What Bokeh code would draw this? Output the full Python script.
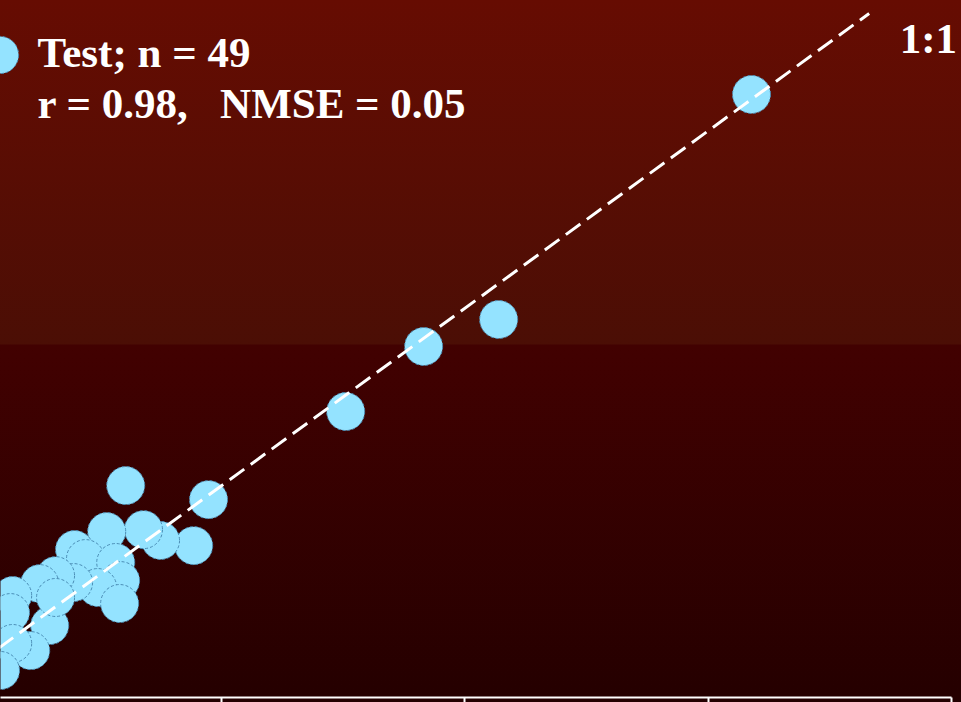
from bokeh.plotting import figure
from bokeh.models import (Range1d, FixedTicker, Label, Legend, LegendItem,
                          ColumnDataSource, CustomJSTickFormatter)
from bokeh.core.properties import value
from bokeh.embed import file_html
from bokeh.resources import INLINE

# ---- data ----
observed = [3.177, 2.139, 1.831, 1.511, 0.948, 0.608, 0.887, 0.751, 0.681, 0.530,
            0.398, 0.443, 0.567, 0.587, 0.493, 0.583, 0.394, 0.320, 0.255, 0.144,
            0.135, 0.296, 0.218, 0.144, 0.094, 0.320]
predicted = [3.204, 1.937, 1.785, 1.419, 0.923, 1.002, 0.664, 0.693, 0.754, 0.743,
             0.642, 0.591, 0.569, 0.467, 0.428, 0.338, 0.456, 0.495, 0.450, 0.383,
             0.287, 0.214, 0.073, 0.113, -0.039, 0.372]
one_to_one = [0.0, 3.66]
x_ticks = [1, 2, 3, 4]
series_label = "Test; n = 49"
stats_text = "r = 0.98,\u00a0\u00a0\u00a0NMSE = 0.05"
line_text = "1:1"

X_LO, X_HI = 0.094, 4.039
Y_LO, Y_HI = -0.191, 3.733

p = figure(width=961, height=702, output_backend="svg", toolbar_location=None,
           x_range=Range1d(X_LO, X_HI), y_range=Range1d(Y_LO, Y_HI),
           y_axis_location=None,
           min_border_left=0, min_border_right=0, min_border_top=0, min_border_bottom=5)
p.grid.visible = False
p.outline_line_color = None
p.background_fill_color = None
p.border_fill_color = None
p.styles = {"background": "linear-gradient(180deg, #660c02 0px, #4b0e05 344px, "
                          "#420101 345px, #250000 697px, #230000 702px)"}

ax = p.xaxis[0]
ax.ticker = FixedTicker(ticks=x_ticks)
ax.formatter = CustomJSTickFormatter(code="return ''")
ax.bounds = (X_LO, x_ticks[-1])
ax.axis_line_color = "white"
ax.axis_line_width = 2
ax.major_tick_line_color = "white"
ax.major_tick_line_width = 2
ax.major_tick_in = 0
ax.major_tick_out = 5
ax.minor_tick_line_color = None
ax.major_label_text_font_size = "0px"
ax.major_label_standoff = 0

src = ColumnDataSource(dict(x=observed, y=predicted))
pts = p.scatter("x", "y", source=src, size=38, fill_color="#94e3ff",
                line_color="#4b8db5", line_width=1, line_dash="3 2")

p.line(one_to_one, one_to_one, line_color="white", line_width=3, line_dash="18 8")

# legend key (glyph only); its text is drawn as a label so it can sit close to the key
legend = Legend(items=[LegendItem(label=value(""), renderers=[pts])],
                location=(-47, 596), glyph_width=93, glyph_height=93,
                label_standoff=0, padding=0, margin=0, spacing=0,
                border_line_color=None, background_fill_alpha=0,
                label_text_font_size="1px", label_width=0, label_height=0)
p.add_layout(legend)

text_style = dict(text_font="Liberation Serif", text_font_style="bold",
                  text_font_size="43px", text_color="white", text_baseline="alphabetic")
p.add_layout(Label(x=0.246, y=3.440, text=series_label, **text_style))
p.add_layout(Label(x=0.246, y=3.153, text=stats_text, **text_style))
p.add_layout(Label(x=3.785, y=3.517, text=line_text, **text_style))

open("out.html", "w").write(file_html(p, INLINE))
